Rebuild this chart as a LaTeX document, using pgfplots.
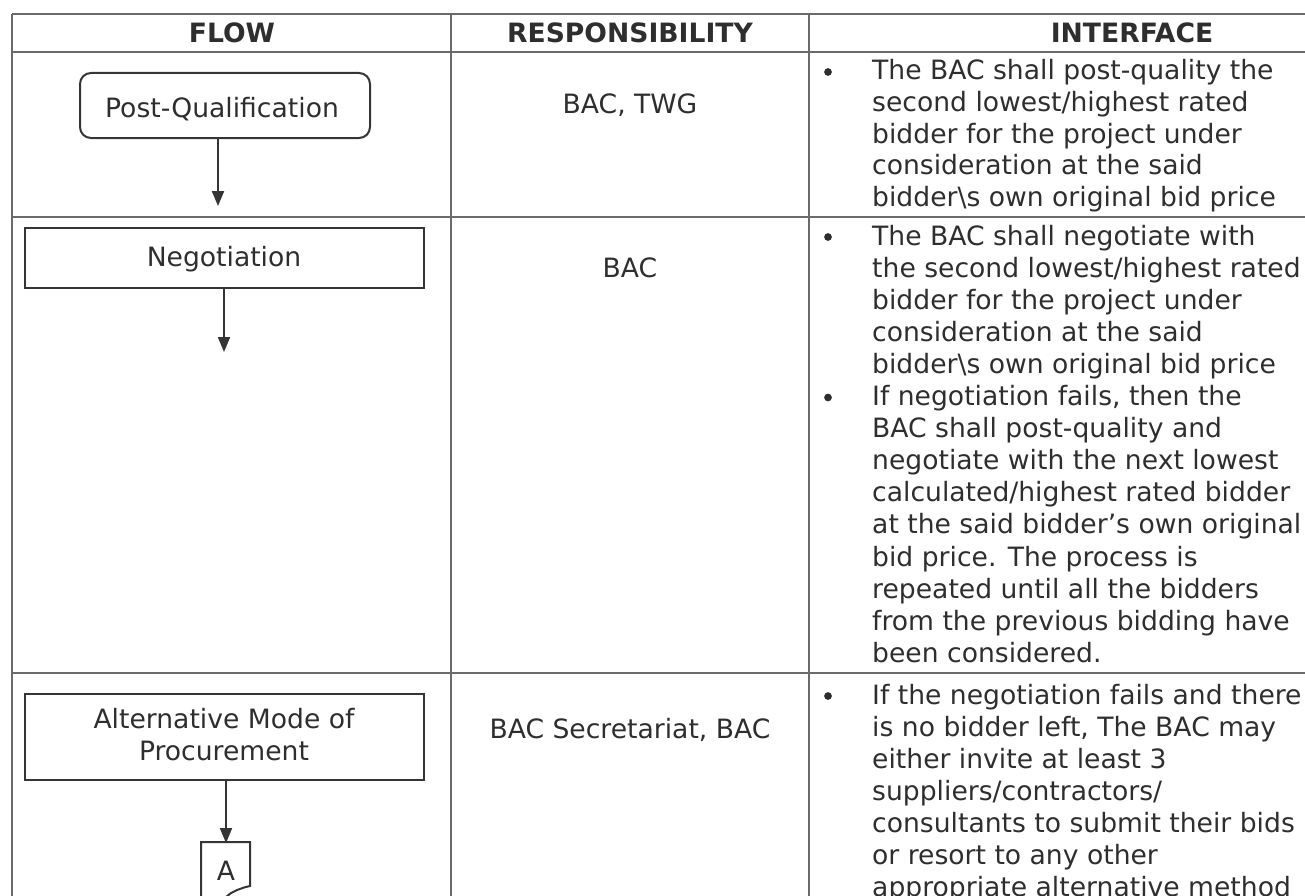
\documentclass[border=0pt]{standalone}
\usepackage{pgfplots}
\pgfplotsset{compat=1.18}
\usepackage{fontspec}
\setmainfont{DejaVu Sans}
\usetikzlibrary{arrows.meta}
\definecolor{txt}{HTML}{2E2E2E}
\definecolor{tbl}{HTML}{6A6A6A}
\definecolor{box}{HTML}{353535}
\newcommand{\il}[2]{\node[anchor=base west,inner sep=0pt,text=txt] at (axis cs:872,#1) {#2};}
\begin{document}
\begin{tikzpicture}
\begin{axis}[name=ax,
  width=1305bp, height=895bp, scale only axis,
  xmin=0, xmax=1305, ymin=0, ymax=895, y dir=reverse,
  hide axis, clip=false,
  every axis plot/.append style={mark=none},
  font=\fontsize{26.6bp}{32bp}\selectfont]
% table rules
\addplot[tbl, line width=1.5bp] coordinates {(12,14)(1320,14)};
\addplot[tbl, line width=1.5bp] coordinates {(12,52)(1320,52)};
\addplot[tbl, line width=1.5bp] coordinates {(12,217)(1320,217)};
\addplot[tbl, line width=1.5bp] coordinates {(12,673)(1320,673)};
\addplot[tbl, line width=1.5bp] coordinates {(12,14)(12,910)};
\addplot[tbl, line width=1.5bp] coordinates {(451,14)(451,910)};
\addplot[tbl, line width=1.5bp] coordinates {(809,14)(809,910)};
% flow boxes
\addplot[box, line width=2bp, rounded corners=11bp] coordinates {(225,73)(370,73)(370,138)(80,138)(80,73)(225,73)};
\addplot[box, line width=2bp] coordinates {(25,228)(424,228)(424,288)(25,288)(25,228)(424,228)};
\addplot[box, line width=2bp] coordinates {(25,694)(424,694)(424,780)(25,780)(25,694)(424,694)};
\addplot[box, line width=2bp] coordinates {(201,910)(201,842)(250,842)(250,886)(244,887.5)(237,890)(231,893)(226,897)};
% arrows
\addplot[box, line width=2bp, -{Triangle[length=15bp,width=12bp]}] coordinates {(218,138)(218,206)};
\addplot[box, line width=2bp, -{Triangle[length=15bp,width=12bp]}] coordinates {(224,288)(224,352)};
\addplot[box, line width=2bp, -{Triangle[length=15bp,width=12bp]}] coordinates {(226,780)(226,843)};
% bullets
\addplot[only marks, mark=*, mark size=3.6bp, txt] coordinates {(828,72)(828,237)(828,397.5)(828,696)};
% header
\node[anchor=base,text=txt,font=\fontsize{26.6bp}{32bp}\selectfont\bfseries] at (axis cs:232,43) {FLOW};
\node[anchor=base,text=txt,font=\fontsize{26.6bp}{32bp}\selectfont\bfseries] at (axis cs:630,43) {RESPONSIBILITY};
\node[anchor=base,text=txt,font=\fontsize{26.6bp}{32bp}\selectfont\bfseries] at (axis cs:1132,43) {INTERFACE};
% flow texts
\node[anchor=base,text=txt,inner sep=0pt] at (axis cs:222,117) {Post-Qualification};
\node[anchor=base,text=txt,inner sep=0pt] at (axis cs:224,266) {Negotiation};
\node[anchor=base,text=txt,inner sep=0pt] at (axis cs:224,728) {Alternative Mode of};
\node[anchor=base,text=txt,inner sep=0pt] at (axis cs:224,760) {Procurement};
\node[anchor=base,text=txt,inner sep=0pt] at (axis cs:226,880) {A};
% responsibility
\node[anchor=base,text=txt,inner sep=0pt] at (axis cs:630,113) {BAC, TWG};
\node[anchor=base,text=txt,inner sep=0pt] at (axis cs:630,277) {BAC};
\node[anchor=base,text=txt,inner sep=0pt] at (axis cs:630,738) {BAC Secretariat, BAC};
% interface row 1
\il{80}{The BAC shall post-quality the}
\il{111.5}{second lowest/highest rated}
\il{143}{bidder for the project under}
\il{174.5}{consideration at the said}
\il{206}{bidder\textbackslash{}s own original bid price}
% row 2
\il{245}{The BAC shall negotiate with}
\il{277.1}{the second lowest/highest rated}
\il{309.2}{bidder for the project under}
\il{341.3}{consideration at the said}
\il{373.4}{bidder\textbackslash{}s own original bid price}
\il{405.5}{If negotiation fails, then the}
\il{437.6}{BAC shall post-quality and}
\il{469.7}{negotiate with the next lowest}
\il{501.8}{calculated/highest rated bidder}
\il{533.9}{at the said bidder’s own original}
\il{566}{bid price. The process is}
\il{598.1}{repeated until all the bidders}
\il{630.2}{from the previous bidding have}
\il{662.3}{been considered.}
% row 3
\il{704}{If the negotiation fails and there}
\il{736}{is no bidder left, The BAC may}
\il{768}{either invite at least 3}
\il{800}{suppliers/contractors/}
\il{832}{consultants to submit their bids}
\il{864}{or resort to any other}
\il{896}{appropriate alternative method}
\end{axis}
\pgfresetboundingbox
\useasboundingbox (ax.south west) rectangle (ax.north east);
\end{tikzpicture}
\end{document}
